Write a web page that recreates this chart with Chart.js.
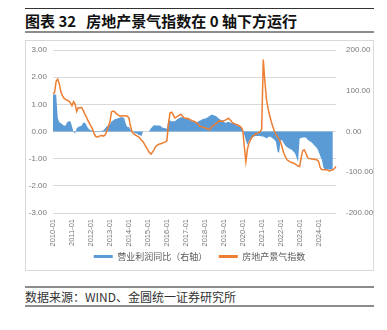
<!DOCTYPE html>
<html>
<head>
<meta charset="utf-8">
<script src="https://cdn.jsdelivr.net/npm/chart.js@4.4.1/dist/chart.umd.min.js"></script>
<style>
  body { margin: 0; width: 387px; height: 330px; background: #fff; position: relative; overflow: hidden;
         font-family: "Noto Sans CJK SC", sans-serif; }
  .title { position: absolute; left: 25px; top: 8px; width: 349px; height: 22px; border-top: 1px solid #333;
           border-bottom: 2px solid #8c8c8c; font-size: 15px; font-weight: bold; line-height: 23px; color: #111; white-space: pre; }
  .box { position: absolute; left: 25px; top: 40px; width: 347px; height: 229px; border: 1px solid #d9d9d9; }
  .src { position: absolute; left: 25px; top: 286px; width: 349px; height: 17px; border-top: 2px solid #8c8c8c;
         border-bottom: 2px solid #8c8c8c; font-size: 12px; line-height: 17px; color: #333; }
</style>
</head>
<body>
<div class="title">图表 32   房地产景气指数在 0 轴下方运行</div>
<div class="box"><canvas id="chart" width="347" height="229"></canvas></div>
<div class="src">数据来源：WIND、金圆统一证券研究所</div>
<script>
// months 2010-01 .. 2024-12
const months = [];
for (let y = 2010; y <= 2024; y++) {
    for (let m = 1; m <= 12; m++) months.push(y + '-' + (m < 10 ? '0' + m : m));
}

// 营业利润同比（右轴）
const profitYoY = [
    91, 91, 91, 33, 23, 20, 17, 14, 15, 23, 25, 25,
    13, -1, -5, 8, 11, 13, 14, 21, 22, 17, 9, 5,
    3, 2, 1, 1, 1, 1, 1, 2, 3, 8, 13, 15,
    17, 25, 27, 30, 31, 32, 34, 35, 35, 33, 19, 11,
    11, 4, 0, -2, -4, -5, -8, -9, -11, 0, 0, 0,
    0, 2, 8, 12, 16, 15, 15, 15, 14, 10, 9, 8,
    7, 29, 27, 25, 25, 25, 28, 31, 33, 35, 35, 33,
    32, 31, 30, 27, 26, 24, 23, 22, 25, 27, 29, 31,
    31, 33, 35, 38, 41, 41, 39, 38, 35, 31, 29, 27,
    25, 21, 23, 24, 22, 21, 20, 19, 16, 14, 13, 11,
    1, -8, -23, -33, -23, -18, -15, -13, -11, -11, -11, -11,
    -12, -12, -14, -17, -14, -12, -14, -17, -20, -25, -49, -53,
    -21, -22, -29, -35, -38, -41, -43, -45, -49, -53, -63, -75,
    -17, -16, -15, -15, -15, -20, -23, -25, -28, -33, -37, -41,
    -49, -60, -69, -88, -93, -93, -93, -93, -93, -93, null, null
];

// 房地产景气指数（左轴）
const climateIndex = [
    1.38, 1.45, 1.85, 1.93, 1.75, 1.45, 1.32, 1.22, 1.18, 1.15, 1.12, 1.05,
    0.95, 1.10, 1.00, 0.74, 0.88, 0.87, 0.89, 0.80, 0.66, 0.55, 0.42, 0.31,
    0.20, 0.09, -0.08, -0.18, -0.21, -0.18, -0.16, -0.15, -0.17, -0.12, 0.00, 0.18,
    0.35, 0.72, 0.75, 0.73, 0.66, 0.62, 0.58, 0.56, 0.58, 0.58, 0.57, 0.56,
    0.50, 0.20, -0.02, -0.08, -0.12, -0.16, -0.19, -0.25, -0.32, -0.38, -0.48, -0.58,
    -0.68, -0.78, -0.83, -0.75, -0.66, -0.55, -0.50, -0.47, -0.45, -0.43, -0.41, -0.38,
    -0.34, 0.25, 0.68, 0.71, 0.62, 0.50, 0.53, 0.57, 0.61, 0.63, 0.56, 0.50,
    0.49, 0.48, 0.46, 0.43, 0.40, 0.38, 0.35, 0.32, 0.25, 0.19, 0.17, 0.16,
    0.14, 0.12, 0.08, 0.07, 0.14, 0.20, 0.24, 0.28, 0.33, 0.39, 0.38, 0.37,
    0.40, 0.42, 0.45, 0.49, 0.43, 0.36, 0.31, 0.28, 0.26, 0.24, 0.20, 0.16,
    0.05, -0.55, -1.11, -0.65, -0.42, -0.30, -0.20, -0.14, -0.10, -0.07, -0.05, -0.02,
    0.10, 2.65, 1.85, 1.20, 0.85, 0.60, 0.38, 0.18, 0.02, -0.10, -0.20, -0.28,
    -0.40, -0.60, -0.80, -0.93, -1.04, -1.08, -1.12, -1.14, -1.16, -1.19, -1.23, -1.27,
    -1.29, -0.95, -0.70, -0.68, -0.80, -0.96, -0.99, -1.00, -1.01, -1.02, -1.03, -1.05,
    -1.10, -1.33, -1.40, -1.41, -1.41, -1.41, -1.43, -1.45, -1.43, -1.41, -1.36, -1.29
];

const tickColor = '#777';
const tickFamily = '"Liberation Sans", "Noto Sans CJK SC", sans-serif';

// fixed axis widths so the plot area sits where the original one does
function fixWidth(w) {
    return function(s) {
        s.width = w;
        s.paddingTop = 9;
        s.paddingBottom = 0;
    };
}

new Chart(document.getElementById('chart').getContext('2d'), {
    type: 'line',
    data: {
        labels: months,
        datasets: [
            {
                label: '营业利润同比（右轴）',
                data: profitYoY,
                yAxisID: 'y1',
                fill: 'origin',
                backgroundColor: '#5b9bd5',
                borderColor: '#5b9bd5',
                borderWidth: 0,
                pointRadius: 0,
                order: 1
            },
            {
                label: '房地产景气指数',
                data: climateIndex,
                yAxisID: 'y',
                fill: false,
                backgroundColor: '#ed7d31',
                borderColor: '#ed7d31',
                borderWidth: 1.5,
                pointRadius: 0,
                order: 0
            }
        ]
    },
    options: {
        responsive: false,
        animation: false,
        layout: { padding: 0 },
        plugins: {
            legend: {
                position: 'bottom',
                maxHeight: 23,
                labels: {
                    boxWidth: 19,
                    boxHeight: 3,
                    padding: 5,
                    color: '#595959',
                    font: { family: '"Noto Sans CJK SC", sans-serif', size: 9 },
                    sort: (a, b) => a.datasetIndex - b.datasetIndex,
                    generateLabels: function(chart) {
                        const items = Chart.defaults.plugins.legend.labels.generateLabels(chart);
                        items.forEach(it => {
                            it.lineWidth = 0;
                            if (it.datasetIndex === 0) it.text = it.text + '\u3000 ';
                        });
                        return items;
                    }
                }
            },
            tooltip: { enabled: false }
        },
        scales: {
            x: {
                grid: { display: false, drawTicks: false },
                border: { display: false },
                ticks: {
                    autoSkip: false,
                    minRotation: 90,
                    maxRotation: 90,
                    padding: 6,
                    color: tickColor,
                    font: { family: tickFamily, size: 7.5 },
                    callback: function(v, i) {
                        return i % 12 === 0 ? this.getLabelForValue(v) : '';
                    }
                },
                afterFit: function(s) { s.height = 34; }
            },
            y: {
                position: 'left',
                min: -3,
                max: 3,
                grid: { color: '#d9d9d9', drawTicks: false },
                border: { display: false },
                ticks: {
                    stepSize: 1,
                    padding: 6,
                    color: tickColor,
                    font: { family: tickFamily, size: 8 },
                    callback: v => v.toFixed(2)
                },
                afterFit: fixWidth(27)
            },
            y1: {
                position: 'right',
                min: -200,
                max: 200,
                grid: { drawOnChartArea: false, drawTicks: false },
                border: { display: false },
                ticks: {
                    stepSize: 100,
                    padding: 10,
                    color: tickColor,
                    font: { family: tickFamily, size: 8 },
                    callback: v => v.toFixed(2)
                },
                afterFit: fixWidth(37)
            }
        }
    }
});
</script>
</body>
</html>
